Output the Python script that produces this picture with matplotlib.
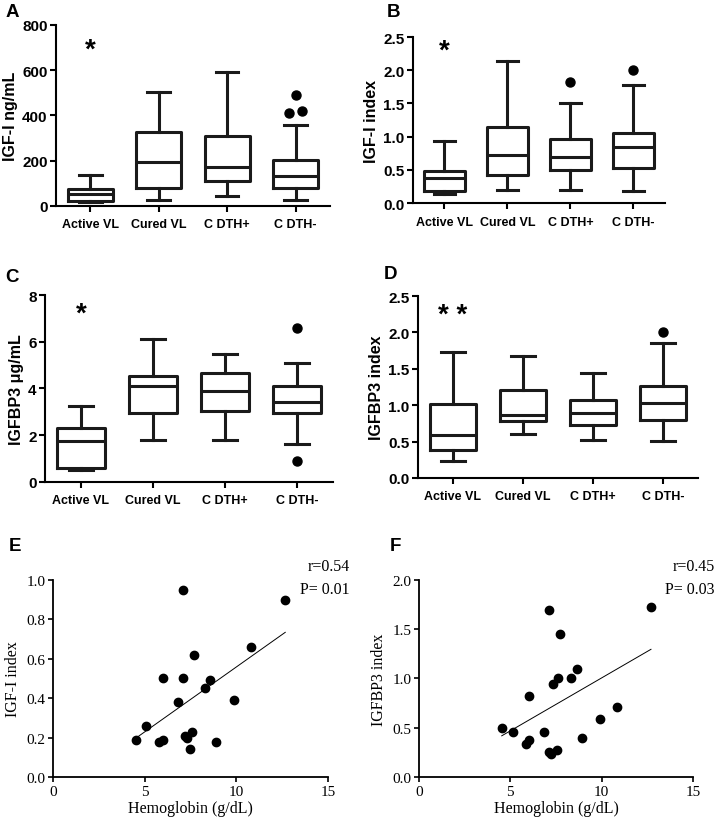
import numpy as np
import matplotlib
matplotlib.use("Agg")
import matplotlib.pyplot as plt

groups = ["Active VL", "Cured VL", "C DTH+", "C DTH-"]

# box summaries: (whislo, q1, med, q3, whishi)
igf1_ng = [(18, 22, 55, 74, 137), (28, 78, 196, 325, 506),
           (44, 111, 174, 311, 593), (25, 78, 131, 202, 359)]
igf1_ng_out = [[], [], [], [491, 412, 418]]

igf1_idx = [(0.13, 0.18, 0.38, 0.48, 0.93), (0.19, 0.42, 0.73, 1.15, 2.14),
            (0.19, 0.49, 0.69, 0.97, 1.50), (0.18, 0.52, 0.84, 1.05, 1.77)]
igf1_idx_out = [[], [], [1.82], [2.0]]

igfbp3_ug = [(0.50, 0.61, 1.74, 2.31, 3.23), (1.81, 2.93, 4.09, 4.54, 6.12),
             (1.81, 3.03, 3.91, 4.68, 5.49), (1.64, 2.93, 3.42, 4.10, 5.11)]
igfbp3_ug_out = [[], [], [], [6.58, 0.90]]

igfbp3_idx = [(0.24, 0.38, 0.59, 1.01, 1.73), (0.61, 0.78, 0.86, 1.21, 1.67),
              (0.52, 0.73, 0.89, 1.07, 1.44), (0.51, 0.80, 1.03, 1.27, 1.85)]
igfbp3_idx_out = [[], [], [], [2.0]]

# scatter data (hemoglobin vs index)
hb_e = [4.51, 5.05, 5.78, 6.0, 6.0, 6.8, 7.07, 7.07, 7.2, 7.31,
        7.49, 7.58, 7.69, 8.29, 8.58, 8.87, 9.89, 10.8, 12.67]
igf1_e = [0.19, 0.26, 0.18, 0.19, 0.50, 0.38, 0.95, 0.50, 0.21, 0.20,
          0.14, 0.23, 0.62, 0.45, 0.49, 0.18, 0.39, 0.66, 0.90]
hb_f = [4.53, 5.13, 5.84, 6.02, 6.02, 6.82, 7.12, 7.12, 7.24, 7.34,
        7.54, 7.63, 7.72, 8.32, 8.63, 8.94, 9.93, 10.82, 12.70]
igfbp3_f = [0.50, 0.46, 0.33, 0.38, 0.82, 0.46, 1.70, 0.25, 0.23, 0.94,
            0.27, 1.00, 1.45, 1.00, 1.10, 0.40, 0.59, 0.71, 1.73]

SANS = "Liberation Sans"
SERIF = "Liberation Serif"

fig = plt.figure(figsize=(7.15, 8.28), dpi=100)


def box_panel(rect, stats, outliers, ylim, yticks, ylabel, stars, star_y):
    ax = fig.add_axes(rect)
    bx = []
    for s in stats:
        bx.append(dict(whislo=s[0], q1=s[1], med=s[2], q3=s[3], whishi=s[4], fliers=[]))
    lw = 2.2
    ax.bxp(bx, positions=range(1, 5), widths=0.66, showfliers=False,
           boxprops=dict(lw=lw, color="#1a1a1a"), whiskerprops=dict(lw=lw, color="#1a1a1a"),
           capprops=dict(lw=lw, color="#1a1a1a"), medianprops=dict(lw=lw, color="#1a1a1a"))
    span = ylim[1] - ylim[0]
    for i, vals in enumerate(outliers):
        vals = sorted(vals)
        xs = [i + 1.0] * len(vals)
        # spread points that would overlap
        for j in range(1, len(vals)):
            if vals[j] - vals[j - 1] < 0.04 * span:
                xs[j - 1] = i + 1 - 0.09
                xs[j] = i + 1 + 0.09
        ax.plot(xs, vals, "o", color="black", ms=6.5)
    ax.set_xlim(0.5, 4.5)
    ax.set_ylim(*ylim)
    ax.set_yticks(yticks)
    ax.set_xticks(range(1, 5))
    ax.set_xticklabels(groups, fontsize=9, fontweight="bold", family=SANS)
    for t in ax.get_yticklabels():
        t.set_fontsize(11)
        t.set_fontweight("bold")
        t.set_family(SANS)
    ax.set_ylabel(ylabel, fontsize=11.5, fontweight="bold", family=SANS, labelpad=3)
    for sp in ["top", "right"]:
        ax.spines[sp].set_visible(False)
    for sp in ["left", "bottom"]:
        ax.spines[sp].set_linewidth(1.5)
    ax.tick_params(width=1.5, length=4, pad=2)
    ax.tick_params(axis="x", pad=5)
    ax.text(1, star_y, stars, ha="center", va="center", fontsize=20,
            fontweight="bold", family=SANS)
    return ax


def scatter_panel(rect, x, y, ylim, yticks, ylabel, rtxt, ptxt):
    ax = fig.add_axes(rect)
    ax.plot(x, y, "o", color="black", ms=6)
    k, b = np.polyfit(x, y, 1)
    xx = np.array([min(x), max(x)])
    ax.plot(xx, k * xx + b, color="black", lw=0.7)
    ax.set_xlim(0, 15)
    ax.set_ylim(*ylim)
    ax.set_xticks([0, 5, 10, 15])
    ax.set_yticks(yticks)
    ax.yaxis.set_major_formatter(matplotlib.ticker.FormatStrFormatter("%.1f"))
    for t in ax.get_xticklabels() + ax.get_yticklabels():
        t.set_fontsize(11)
        t.set_family(SERIF)
    ax.set_xlabel("Hemoglobin (g/dL)", fontsize=11.5, family=SERIF, labelpad=2)
    ax.set_ylabel(ylabel, fontsize=11.5, family=SERIF)
    for sp in ["top", "right"]:
        ax.spines[sp].set_visible(False)
    for sp in ["left", "bottom"]:
        ax.spines[sp].set_linewidth(1.3)
    ax.tick_params(width=1.2, length=3.5, pad=2)
    ax.text(1.08, 1.07, rtxt, transform=ax.transAxes, ha="right", va="center",
            fontsize=11.5, family=SERIF)
    ax.text(1.08, 0.955, ptxt, transform=ax.transAxes, ha="right", va="center",
            fontsize=11.5, family=SERIF)
    return ax


axa = box_panel([0.0783, 0.750, 0.383, 0.2186], igf1_ng, igf1_ng_out, (0, 800),
                [0, 200, 400, 600, 800], "IGF-I ng/mL", "*", 690)
axb = box_panel([0.5776, 0.7536, 0.3524, 0.2005], igf1_idx, igf1_idx_out, (0, 2.5),
                [0, 0.5, 1.0, 1.5, 2.0, 2.5], "IGF-I index", "*", 2.29)
axc = box_panel([0.0629, 0.4167, 0.4028, 0.2258], igfbp3_ug, igfbp3_ug_out, (0, 8),
                [0, 2, 4, 6, 8], "IGFBP3 μg/mL", "*", 7.2)
axd = box_panel([0.5846, 0.4215, 0.3916, 0.2198], igfbp3_idx, igfbp3_idx_out, (0, 2.5),
                [0, 0.5, 1.0, 1.5, 2.0, 2.5], "IGFBP3 index", "* *", 2.24)
for ax in (axb, axd):
    ax.set_yticklabels(["0.0", "0.5", "1.0", "1.5", "2.0", "2.5"],
                       fontsize=11, fontweight="bold", family=SANS)

scatter_panel([0.0741, 0.0604, 0.3846, 0.2379], hb_e, igf1_e, (0, 1.0),
              [0, 0.2, 0.4, 0.6, 0.8, 1.0], "IGF-I index", "r=0.54", "P= 0.01")
scatter_panel([0.586, 0.0604, 0.3832, 0.2379], hb_f, igfbp3_f, (0, 2.0),
              [0, 0.5, 1.0, 1.5, 2.0], "IGFBP3 index", "r=0.45", "P= 0.03")

letters = [("A", 0.008, 0.985), ("B", 0.541, 0.985), ("C", 0.008, 0.665),
           ("D", 0.537, 0.668), ("E", 0.012, 0.340), ("F", 0.545, 0.340)]
for s, x, y in letters:
    fig.text(x, y, s, fontsize=13.5, fontweight="bold", family=SANS, va="center")

fig.savefig("out.png", dpi=100)
